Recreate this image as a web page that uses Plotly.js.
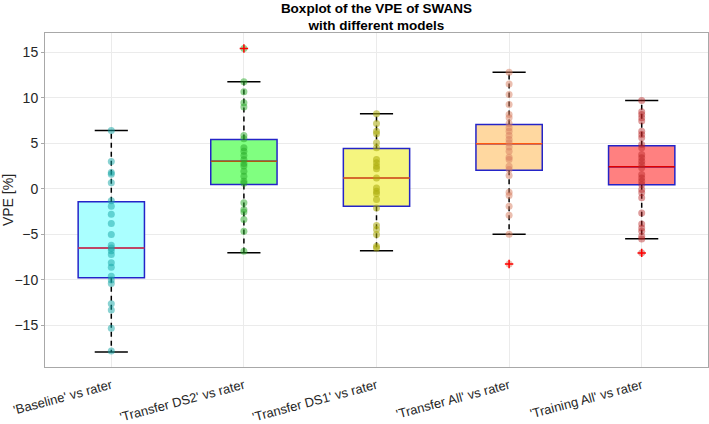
<!DOCTYPE html>
<html>
<head>
<meta charset="utf-8">
<script src="https://cdn.plot.ly/plotly-3.0.1.min.js"></script>
<style>html,body{margin:0;padding:0;background:#fff;}#chart{width:709px;height:424px;}</style>
</head>
<body>
<div id="chart"></div>
<script>
// ---- data ----
const categories = ["'Baseline' vs rater", "'Transfer DS2' vs rater", "'Transfer DS1' vs rater", "'Transfer All' vs rater", "'Training All' vs rater"];
const q1Values = [-9.75, 0.47, -1.9, 2.05, 0.44];
const medianValues = [-6.5, 3.04, 1.2, 4.94, 2.42];
const q3Values = [-1.43, 5.42, 4.43, 7.07, 4.72];
const lowerWhisker = [-17.9, -7.0, -6.8, -4.98, -5.49];
const upperWhisker = [6.4, 11.76, 8.24, 12.8, 9.7];

const pointsBaseline = [6.4, 3.0, 1.8, 1.6, 0.66, -1.3, -1.9, -2.8, -3.8, -5.0, -6.2, -6.5, -6.8, -7.2, -8.1, -8.6, -9.6, -10.0, -10.4, -12.6, -13.3, -15.3, -17.8];
const pointsDS2 = [15.4, 11.76, 10.66, 9.45, 8.97, 5.86, 5.49, 4.5, 4.13, 3.66, 3.2, 2.78, 2.5, 1.94, 1.39, 0.84, 0.62, -1.54, -2.27, -2.53, -3.37, -4.66, -6.86];
const pointsDS1 = [8.24, 7.18, 6.33, 6.04, 5.05, 4.5, 3.22, 2.85, 2.49, 2.2, 1.2, 0.1, -0.26, -0.55, -1.18, -2.09, -4.03, -4.47, -5.0, -6.3, -6.5];
const pointsAll = [12.8, 11.5, 10.36, 9.26, 8.16, 7.8, 7.18, 6.7, 6.33, 5.86, 5.42, 5.05, 4.6, 4.13, 3.47, 3.22, 2.49, 2.12, 1.46, -0.37, -0.73, -1.9, -2.9, -4.98, -8.24];
const pointsTraining = [9.7, 8.46, 8.16, 7.8, 7.43, 6.33, 5.97, 5.6, 4.87, 4.5, 3.77, 3.4, 3.04, 2.67, 2.31, 1.57, 1.2, 0.84, 0.47, -0.08, -0.44, -0.99, -2.64, -3.85, -4.29, -4.66, -5.2, -5.5, -7.03];
const outliers = [[], [15.4], [], [-8.24], [-7.03]];

const yTickValues = [-15, -10, -5, 0, 5, 10, 15];

// ---- styles ----
const pointSets = [pointsBaseline, pointsDS2, pointsDS1, pointsAll, pointsTraining];
const fillColors = ['#aaffff', '#80ff80', '#f5f57f', '#ffd8a0', '#ff8080'];
const pointColors = ['rgba(20,165,165,0.5)', 'rgba(40,170,40,0.5)', 'rgba(170,170,10,0.55)', 'rgba(215,125,95,0.5)', 'rgba(185,35,35,0.45)'];
const medianColors = ['#e84040', '#b05a10', '#ff7000', '#ff5a10', '#e00000'];
const boxWidth = 0.5, capWidth = 0.25;

const traces = [];
categories.forEach((c, i) => {
  const x = i + 1;
  traces.push({type: 'box', x: [x], q1: [q1Values[i]], median: [medianValues[i]], q3: [q3Values[i]],
    lowerfence: [q1Values[i]], upperfence: [q3Values[i]], width: boxWidth, whiskerwidth: 0,
    fillcolor: fillColors[i], line: {color: '#2424c8', width: 1.5}, boxpoints: false,
    showlegend: false, hoverinfo: 'skip'});
});
categories.forEach((c, i) => {
  const x = i + 1;
  traces.push({type: 'scatter', mode: 'lines', x: [x - boxWidth / 2, x + boxWidth / 2], y: [medianValues[i], medianValues[i]],
    line: {color: medianColors[i], width: 1.5}, showlegend: false, hoverinfo: 'skip'});
  traces.push({type: 'scatter', mode: 'lines', x: [x, x], y: [q3Values[i], upperWhisker[i]],
    line: {color: '#000', width: 1.5, dash: '5px,4px'}, showlegend: false, hoverinfo: 'skip'});
  traces.push({type: 'scatter', mode: 'lines', x: [x, x], y: [q1Values[i], lowerWhisker[i]],
    line: {color: '#000', width: 1.5, dash: '5px,4px'}, showlegend: false, hoverinfo: 'skip'});
  traces.push({type: 'scatter', mode: 'lines', x: [x - capWidth / 2, x + capWidth / 2], y: [upperWhisker[i], upperWhisker[i]],
    line: {color: '#000', width: 1.5}, showlegend: false, hoverinfo: 'skip'});
  traces.push({type: 'scatter', mode: 'lines', x: [x - capWidth / 2, x + capWidth / 2], y: [lowerWhisker[i], lowerWhisker[i]],
    line: {color: '#000', width: 1.5}, showlegend: false, hoverinfo: 'skip'});
});
categories.forEach((c, i) => {
  const x = i + 1;
  traces.push({type: 'scatter', mode: 'markers', x: pointSets[i].map(() => x), y: pointSets[i],
    marker: {color: pointColors[i], size: 7}, showlegend: false, hoverinfo: 'y'});
});
categories.forEach((c, i) => {
  const x = i + 1;
  if (outliers[i].length) {
    traces.push({type: 'scatter', mode: 'markers', x: outliers[i].map(() => x), y: outliers[i],
      marker: {symbol: 'cross-thin', size: 6, color: '#ff0000', line: {color: '#ff0000', width: 1.5}},
      showlegend: false, hoverinfo: 'y'});
  }
});

const layout = {
  width: 709, height: 424,
  margin: {l: 45, r: 1, t: 33, b: 57},
  paper_bgcolor: '#ffffff', plot_bgcolor: '#ffffff',
  font: {family: 'Liberation Sans, Arial, sans-serif', size: 13, color: '#262626'},
  title: {text: '<b>Boxplot of the VPE of SWANS</b><br><b>with different models</b>',
    font: {size: 13.5, color: '#000'}, x: 0.5, xref: 'paper', y: 0.97, yref: 'container', yanchor: 'middle'},
  showlegend: false,
  xaxis: {range: [0.5, 5.5], tickmode: 'array', tickvals: categories.map((c, i) => i + 1), ticktext: categories,
    tickangle: -15, showgrid: true, gridcolor: '#ebebeb', zeroline: false, ticklabelstandoff: 5,
    showline: true, linecolor: '#a8a8a8', mirror: true, ticks: '', tickfont: {size: 13, color: '#262626'}},
  yaxis: {range: [-19.55, 17.1], tickmode: 'array', tickvals: yTickValues, showgrid: true, gridcolor: '#ebebeb',
    zeroline: false, showline: true, linecolor: '#a8a8a8', mirror: true, ticks: 'outside', ticklen: 3, tickcolor: '#a8a8a8',
    title: {text: 'VPE [%]', font: {size: 14, color: '#262626'}, standoff: 0}, tickfont: {size: 14, color: '#262626'}}
};

Plotly.newPlot('chart', traces, layout, {displayModeBar: false, staticPlot: true});
</script>
</body>
</html>
